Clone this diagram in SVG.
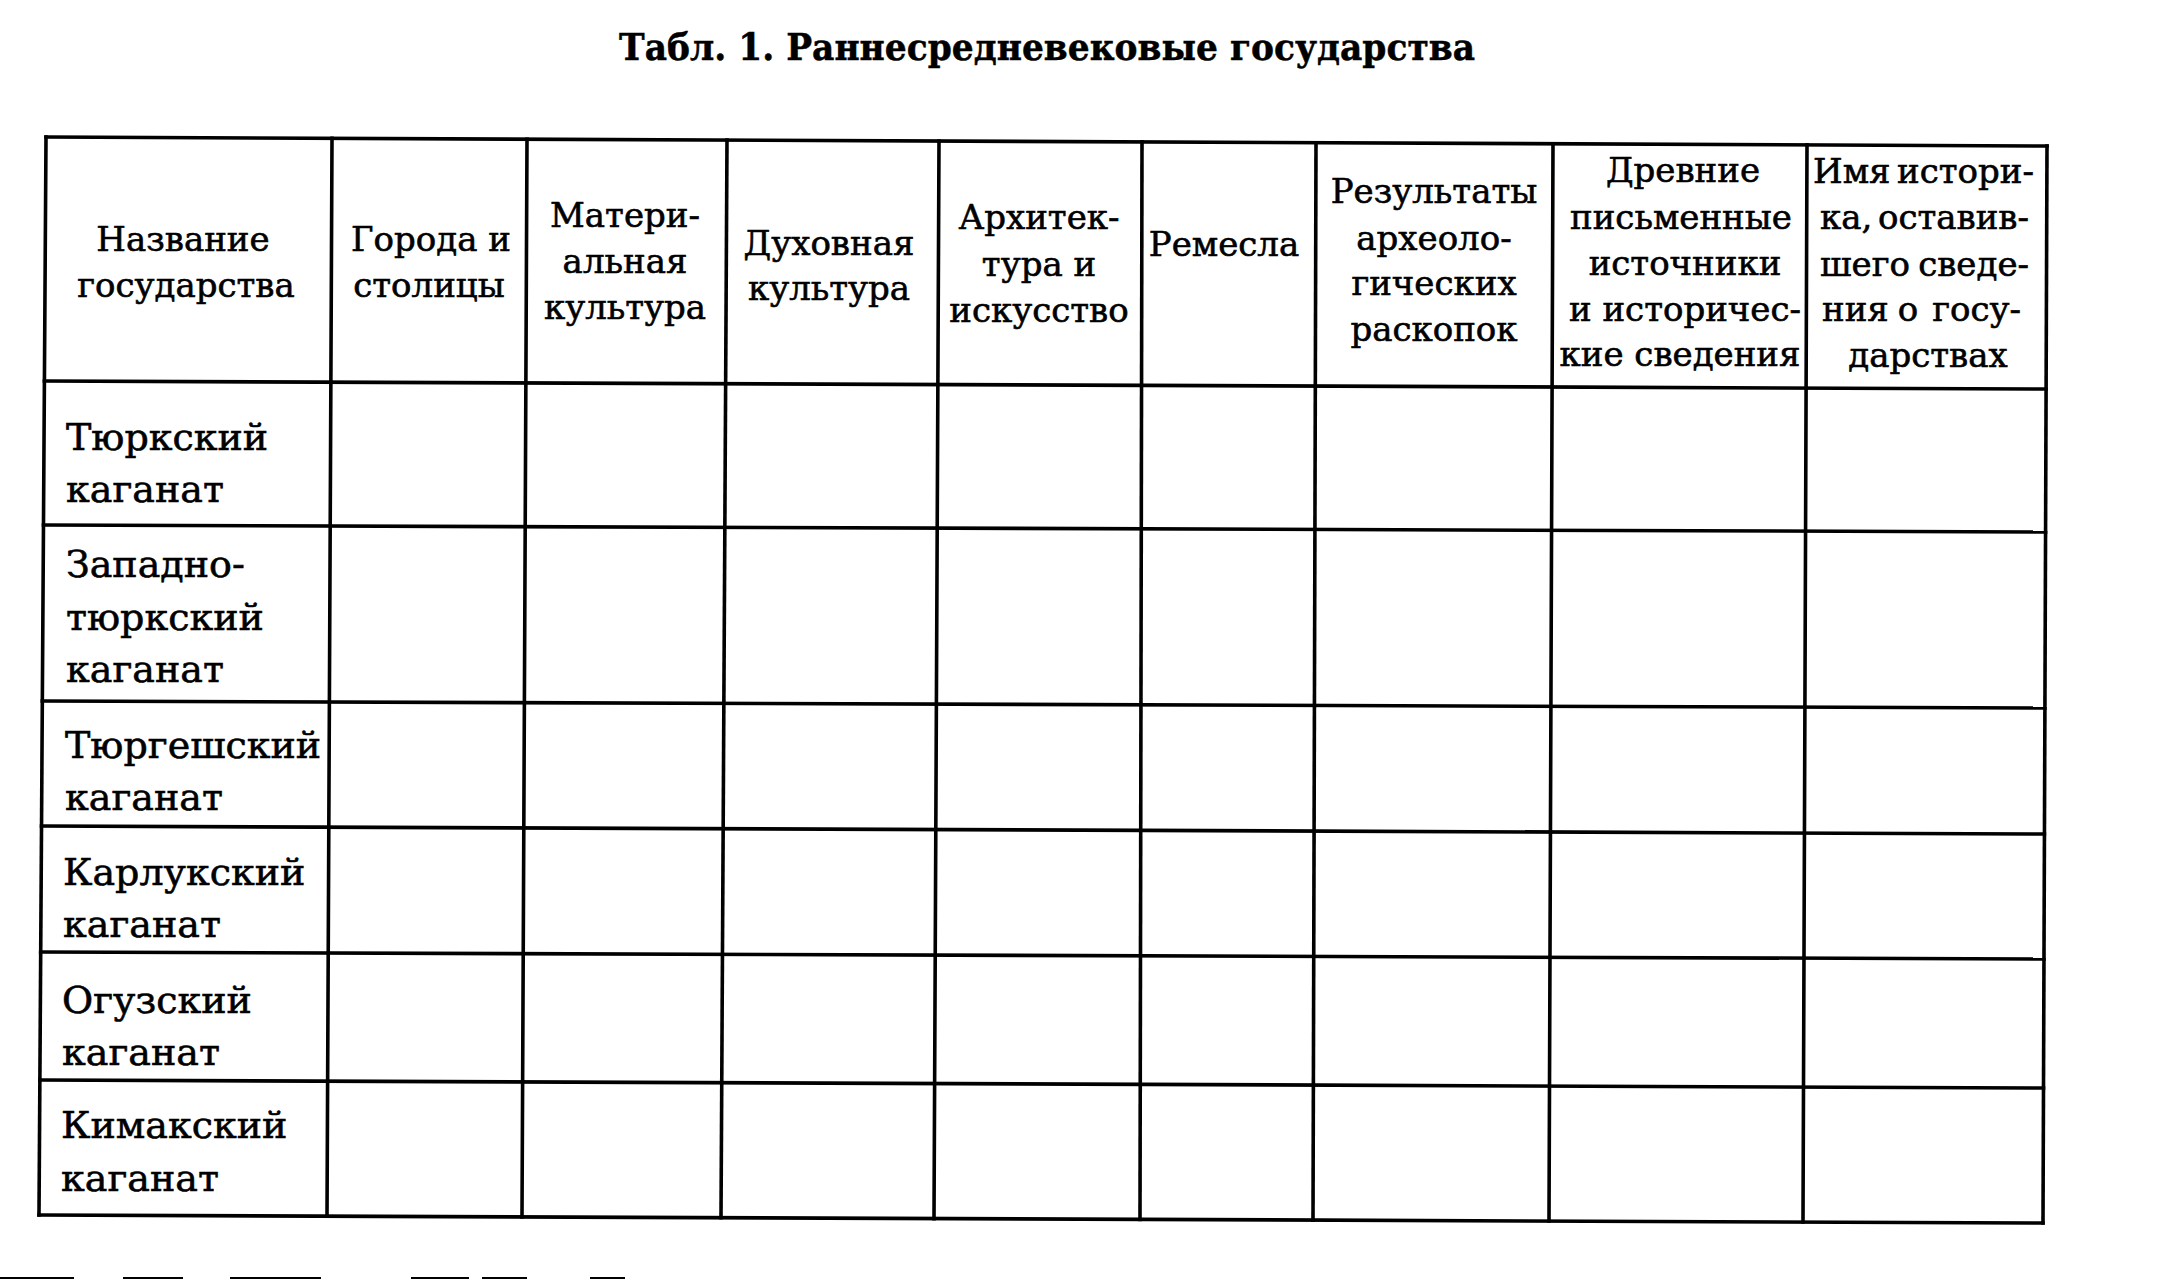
<svg xmlns="http://www.w3.org/2000/svg" width="2170" height="1280" viewBox="0 0 2170 1280">
<style>
  .t { font-family: "DejaVu Serif", "Liberation Serif", serif; fill: #000; stroke: #000; stroke-width: 0.6px; }
  .h { font-size: 34px; text-anchor: middle; }
  .hl { font-size: 34px; }
  .r { font-size: 38px; }
  .title { font-family: "DejaVu Serif", "Liberation Serif", serif; font-size: 38px; font-weight: bold; fill: #000; stroke: #000; stroke-width: 0.5px; }
  .grid line { stroke: #000; stroke-width: 3.6; stroke-linecap: square; }
  .frag line { stroke: #000; stroke-width: 2.2; }
</style>
<rect x="0" y="0" width="2170" height="1280" fill="#fff"/>

<g id="title">
  <text class="title" x="619" y="60" textLength="856" lengthAdjust="spacingAndGlyphs">Табл. 1. Раннесредневековые государства</text>
</g>

<g id="grid" class="grid">
  <!-- outer border -->
  <line x1="46" y1="137" x2="2047" y2="146"/>
  <line x1="39" y1="1215" x2="2043" y2="1223"/>
  <line x1="46" y1="137" x2="39" y2="1215"/>
  <line x1="2047" y1="146" x2="2043" y2="1223"/>
  <!-- row separators -->
  <line x1="44.4" y1="381" x2="2046.1" y2="389"/>
  <line x1="43.5" y1="525" x2="2045.6" y2="532"/>
  <line x1="42.3" y1="701" x2="2044.9" y2="708"/>
  <line x1="41.5" y1="826" x2="2044.4" y2="834"/>
  <line x1="40.7" y1="952" x2="2044.0" y2="959"/>
  <line x1="39.9" y1="1080" x2="2043.5" y2="1088"/>
  <!-- column separators -->
  <line x1="332" y1="138.3" x2="327" y2="1216.1"/>
  <line x1="527" y1="139.2" x2="522" y2="1216.9"/>
  <line x1="727" y1="140.1" x2="721" y2="1217.7"/>
  <line x1="939" y1="141.0" x2="934" y2="1218.6"/>
  <line x1="1142" y1="141.9" x2="1140" y2="1219.4"/>
  <line x1="1316" y1="142.7" x2="1313" y2="1220.1"/>
  <line x1="1553" y1="143.8" x2="1549" y2="1221.0"/>
  <line x1="1807" y1="144.9" x2="1803" y2="1222.0"/>
</g>

<g id="header-name" class="t h">
  <text x="183" y="251">Название</text>
  <text x="186" y="297">государства</text>
</g>
<g id="header-cities" class="t h">
  <text x="431" y="251">Города и</text>
  <text x="429" y="297">столицы</text>
</g>
<g id="header-material" class="t h">
  <text x="625" y="227">Матери-</text>
  <text x="625" y="273">альная</text>
  <text x="625" y="319">культура</text>
</g>
<g id="header-spiritual" class="t h">
  <text x="829" y="255">Духовная</text>
  <text x="829" y="300">культура</text>
</g>
<g id="header-architecture" class="t h">
  <text x="1039" y="229">Архитек-</text>
  <text x="1039" y="276">тура и</text>
  <text x="1039" y="322">искусство</text>
</g>
<g id="header-crafts" class="t h">
  <text x="1224" y="256">Ремесла</text>
</g>
<g id="header-archaeology" class="t h">
  <text x="1434" y="203">Результаты</text>
  <text x="1434" y="250">археоло-</text>
  <text x="1434" y="295">гических</text>
  <text x="1434" y="341">раскопок</text>
</g>
<g id="header-sources" class="t h">
  <text x="1683" y="182">Древние</text>
  <text x="1681" y="229">письменные</text>
  <text x="1685" y="275">источники</text>
  <text x="1685" y="321">и историчес-</text>
  <text x="1680" y="366">кие сведения</text>
</g>
<g id="header-historian" class="t hl">
  <text x="1813" y="183">Имя</text>
  <text x="2034" y="183" text-anchor="end">истори-</text>
  <text x="1820" y="229">ка,</text>
  <text x="2029" y="229" text-anchor="end">оставив-</text>
  <text x="1820" y="276">шего</text>
  <text x="2029" y="276" text-anchor="end">сведе-</text>
  <text x="1822" y="321">ния</text>
  <text x="1908" y="321" text-anchor="middle">о</text>
  <text x="2021" y="321" text-anchor="end">госу-</text>
  <text x="1928" y="367" text-anchor="middle">дарствах</text>
</g>

<g id="row-turkic" class="t r">
  <text x="66" y="450">Тюркский</text>
  <text x="66" y="502">каганат</text>
</g>
<g id="row-west-turkic" class="t r">
  <text x="66" y="577">Западно-</text>
  <text x="66" y="630">тюркский</text>
  <text x="66" y="682">каганат</text>
</g>
<g id="row-turgesh" class="t r">
  <text x="65" y="758">Тюргешский</text>
  <text x="65" y="810">каганат</text>
</g>
<g id="row-karluk" class="t r">
  <text x="63" y="885">Карлукский</text>
  <text x="63" y="937">каганат</text>
</g>
<g id="row-oguz" class="t r">
  <text x="62" y="1013">Огузский</text>
  <text x="62" y="1065">каганат</text>
</g>
<g id="row-kimak" class="t r">
  <text x="61" y="1138">Кимакский</text>
  <text x="61" y="1191">каганат</text>
</g>

<g id="scan-fragments" class="frag">
  <line x1="0" y1="1278" x2="74" y2="1278"/>
  <line x1="123" y1="1278" x2="183" y2="1278"/>
  <line x1="230" y1="1278" x2="321" y2="1278"/>
  <line x1="411" y1="1278" x2="469" y2="1278"/>
  <line x1="482" y1="1278" x2="527" y2="1278"/>
  <line x1="590" y1="1278" x2="625" y2="1278"/>
</g>
</svg>
